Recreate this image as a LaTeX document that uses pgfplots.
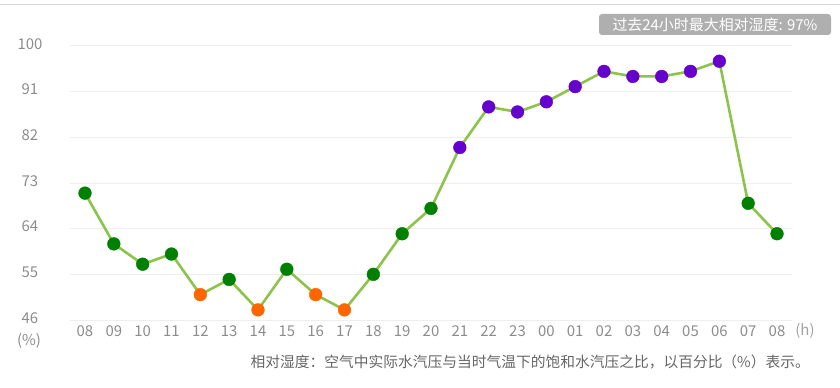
\documentclass[border=0pt]{standalone}
\usepackage{pgfplots}
\pgfplotsset{compat=1.18}
\usepackage{pgfplotstable}
\usepackage{fontspec}
\setmainfont{Noto Sans CJK SC}
\definecolor{linegreen}{HTML}{8CC34B}
\definecolor{mgreen}{HTML}{008000}
\definecolor{morange}{HTML}{FF6600}
\definecolor{mpurple}{HTML}{6600CC}
\definecolor{tickgray}{HTML}{8C8C8C}
\definecolor{gridgray}{HTML}{EEEEEE}
\definecolor{badge}{HTML}{AFAFAF}
\pgfplotstableread{
x y c
0 71 g
1 61 g
2 57 g
3 59 g
4 51 o
5 54 g
6 48 o
7 56 g
8 51 o
9 48 o
10 55 g
11 63 g
12 68 g
13 80 p
14 88 p
15 87 p
16 89 p
17 92 p
18 95 p
19 94 p
20 94 p
21 95 p
22 97 p
23 69 g
24 63 g
}\humidity
\begin{document}
\begin{tikzpicture}[x=1bp,y=1bp]
\useasboundingbox (0,0) rectangle (840,387);
\draw[color=gridgray!80!gray, line width=1bp] (0,382) -- (840,382);
\begin{axis}[
  at={(70bp,67bp)}, anchor=south west,
  scale only axis, width=722bp, height=274bp,
  xmin=-0.52, xmax=24.52, ymin=46, ymax=100,
  axis line style={draw=none},
  major tick length=0pt,
  ymajorgrids, grid style={color=gridgray, line width=1bp},
  xtick={0,...,24},
  xticklabels={08,09,10,11,12,13,14,15,16,17,18,19,20,21,22,23,00,01,02,03,04,05,06,07,08},
  ytick={46,55,64,73,82,91,100},
  /pgf/number format/assume math mode=true,
  ticklabel style={font=\fontsize{15}{18}\selectfont, text=tickgray},
  xticklabel style={anchor=center, yshift=-11bp},
  yticklabel style={anchor=center, xshift=-40bp, yshift=2bp},
  clip=false,
]
\addplot[color=linegreen, line width=2.6bp, mark=none] table[x=x,y=y] {\humidity};
\addplot[scatter, only marks, scatter src=explicit symbolic,
  scatter/classes={
    g={mark=*, mark size=6.4bp, draw=mgreen, fill=mgreen},
    o={mark=*, mark size=6.4bp, draw=morange, fill=morange},
    p={mark=*, mark size=6.4bp, draw=mpurple, fill=mpurple}}]
  table[x=x,y=y,meta=c] {\humidity};
\end{axis}
\node[text=tickgray, font=\fontsize{15}{18}\selectfont] at (29,46) {(\%)};
\node[text=tickgray!80, font=\fontsize{15}{18}\selectfont] at (805,56) {(h)};
\node[anchor=east, text=black!60, font=\fontsize{14.8}{18}\selectfont, inner sep=0pt] at (810,25) {相对湿度：空气中实际水汽压与当时气温下的饱和水汽压之比，以百分比（\%）表示。};
\fill[badge, rounded corners=3bp] (599,352) rectangle (831,373);
\node[text=white, font=\fontsize{15}{18}\selectfont, inner sep=0pt] at (715,362.5) {过去24小时最大相对湿度: 97\%};
\end{tikzpicture}
\end{document}
